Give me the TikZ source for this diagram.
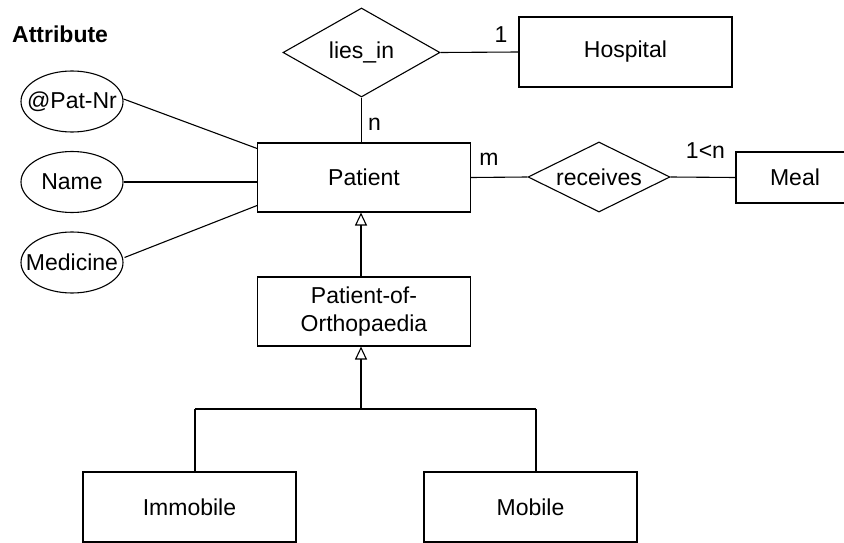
\documentclass[tikz,border=0pt]{standalone}
\usepackage{fontspec}
\setmainfont{Liberation Sans}
\usetikzlibrary{shapes.geometric,arrows.meta,calc}
\begin{document}
\begin{tikzpicture}[x=1pt,y=1pt,
  every node/.style={font=\fontsize{23}{28}\selectfont, inner sep=0pt},
  line/.style={draw=black, line width=1.1pt},
  entity/.style={draw=black, line width=1.1pt, rectangle, minimum width=213pt, minimum height=69pt, align=center},
  rel/.style={draw=black, line width=1.1pt, diamond},
  attr/.style={draw=black, line width=1.1pt, ellipse, minimum width=102pt, minimum height=61pt},
  gen/.style={line, -{Triangle[open,width=12pt,length=13pt,line width=1.1pt]}},
  lbl/.style={}
]
\useasboundingbox (0,0) rectangle (844,-543);

\node[anchor=base west, font=\fontsize{23}{28}\selectfont\bfseries] (title) at (12,-43) {Attribute};

\node[entity] (patient) at (364,-177.5) {Patient};
\node[rel, shape aspect=1.76, minimum width=157pt, minimum height=89pt] (lies) at (361.5,-52.5) {lies\_in};
\node[entity, minimum width=213pt, minimum height=70pt] (hospital) at (625.5,-52) {Hospital};
\node[rel, shape aspect=2, minimum width=142pt, minimum height=70pt] (receives) at (599,-177) {receives};
\node[entity, minimum width=118pt, minimum height=51pt] (meal) at (795,-177.5) {Meal};

\node[attr] (patnr) at (72,-101.5) {};
\node (patnrtext) at (patnr.center) {@Pat-Nr};
\node[attr] (name) at (72,-182) {};
\node (nametext) at (name.center) {Name};
\node[attr] (medicine) at (72,-262.5) {};
\node (medicinetext) at (medicine.center) {Medicine};

\node[entity] (poo) at (364,-311.5) {Patient-of-\\Orthopaedia};
\node[entity, minimum height=70pt] (immobile) at (189.5,-507) {Immobile};
\node[entity, minimum height=70pt] (mobile) at (530.5,-507) {Mobile};

% labels
\node[lbl] (ln) at (374.5,-124.5) {n};
\node[lbl] (l1) at (501,-34.5) {1};
\node[lbl] (lm) at (489,-159.5) {m};
\node[lbl] (l1n) at (705.5,-150.5) {1<n};

% relationships
\draw[line] (lies.south) -- (lies.south |- patient.north);
\draw[line] (lies.east) -- (hospital.west);
\draw[line] (patient.east) -- (receives.west);
\draw[line] (receives.east) -- (meal.west);

% attributes
\draw[line] ($(patnr.east)+(0,2.5)$) -- ($(patient.north west)+(0,-6)$);
\draw[line] (name.east) -- (name.east -| patient.west);
\draw[line] ($(medicine.east)+(1,5)$) -- ($(patient.south west)+(0,7)$);

% generalisation
\coordinate (pootop) at (361,-277);
\coordinate (j) at (361,-409);
\coordinate (jl) at (195,-409);
\coordinate (jr) at (536,-409);
\draw[gen] (pootop) -- (pootop |- patient.south);
\draw[gen] (j) -- (j |- poo.south);
\draw[line] (jl) -- (jr);
\draw[line] (jl) -- (jl |- immobile.north);
\draw[line] (jr) -- (jr |- mobile.north);
\end{tikzpicture}
\end{document}
